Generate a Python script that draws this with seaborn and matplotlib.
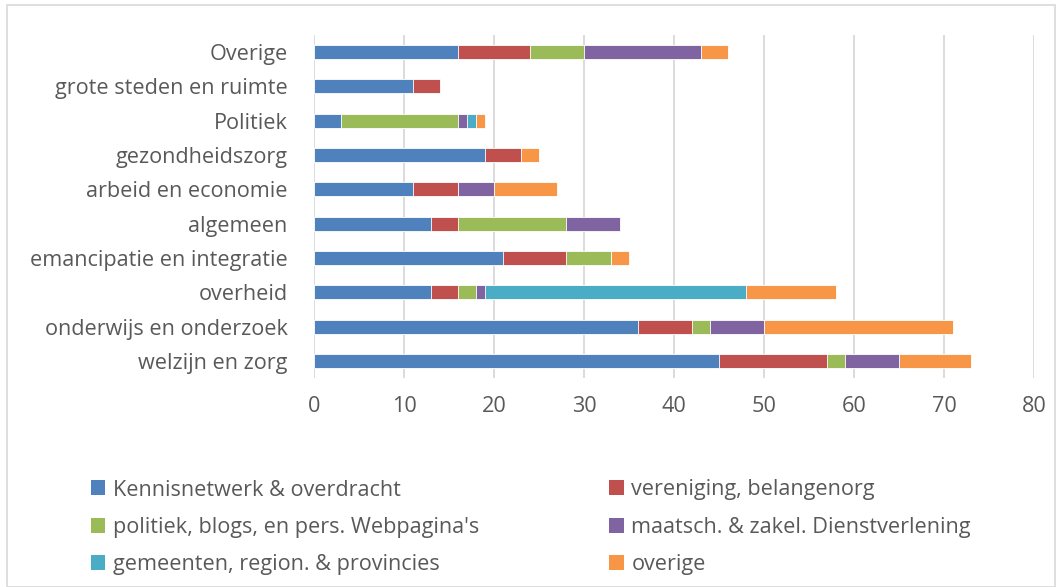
import numpy as np
import pandas as pd
import seaborn as sns
import matplotlib.pyplot as plt
from matplotlib.patches import Rectangle, Patch

# categories, top to bottom
categories = ['Overige', 'grote steden en ruimte', 'Politiek', 'gezondheidszorg',
              'arbeid en economie', 'algemeen', 'emancipatie en integratie',
              'overheid', 'onderwijs en onderzoek', 'welzijn en zorg']

kennisnetwerk = [16, 11, 3, 19, 11, 13, 21, 13, 36, 45]
vereniging = [8, 3, 0, 4, 5, 3, 7, 3, 6, 12]
politiek = [6, 0, 13, 0, 0, 12, 5, 2, 2, 2]
maatsch = [13, 0, 1, 0, 4, 6, 0, 1, 6, 6]
gemeenten = [0, 0, 1, 0, 0, 0, 0, 29, 0, 0]
overige = [3, 0, 1, 2, 7, 0, 2, 10, 21, 8]

series_names = ['Kennisnetwerk & overdracht', 'vereniging, belangenorg',
                "politiek, blogs, en pers. Webpagina's", 'maatsch. & zakel. Dienstverlening',
                'gemeenten, region. & provincies', 'overige']
series_values = [kennisnetwerk, vereniging, politiek, maatsch, gemeenten, overige]
colors = ['#4F81BD', '#C0504D', '#9BBB59', '#8064A2', '#4BACC6', '#F79646']

sns.set_style('white')
plt.rcParams['font.family'] = ['Open Sans', 'DejaVu Sans']
text_color = '#595959'

df = pd.DataFrame(dict(zip(series_names, series_values)), index=categories)
cum = df.cumsum(axis=1)

fig = plt.figure(figsize=(10.61, 5.87), dpi=100)
ax = fig.add_axes([314 / 1061, 1 - 378 / 587, (1034 - 314) / 1061, (378 - 35) / 587])

# draw cumulative totals from the last series backwards so each stack shows
for name, color in reversed(list(zip(series_names, colors))):
    sns.barplot(x=cum[name].values, y=categories, orient='h', color=color,
                width=0.41, ax=ax, edgecolor='white', linewidth=0.6,
                saturation=1)

ax.set_xlim(0, 80)
ax.set_xticks(np.arange(0, 81, 10))
ax.xaxis.grid(True, color='#D9D9D9', linewidth=1.3)
ax.set_axisbelow(True)
for s in ax.spines.values():
    s.set_visible(False)
ax.tick_params(axis='both', length=0, colors=text_color, labelsize=15.6)
ax.tick_params(axis='y', pad=19)
ax.tick_params(axis='x', pad=13)
ax.set_xlabel('')
ax.set_ylabel('')

handles = [Patch(facecolor=c, edgecolor='none') for c in colors]
order = [0, 2, 4, 1, 3, 5]
fig.legend([handles[i] for i in order], [series_names[i] for i in order],
           ncol=2, loc='upper left', bbox_to_anchor=(71 / 1061, 1 - 460 / 587),
           frameon=False, fontsize=15.6, labelcolor=text_color,
           handlelength=0.68, handleheight=0.68, handletextpad=0.35,
           columnspacing=6.0, labelspacing=0.76)

fig.patches.append(Rectangle((7 / 1061, 0), 1048 / 1061, 1 - 5 / 587,
                             transform=fig.transFigure, fill=False,
                             edgecolor='#D9D9D9', linewidth=1.2))

fig.savefig('out.png', dpi=100)
